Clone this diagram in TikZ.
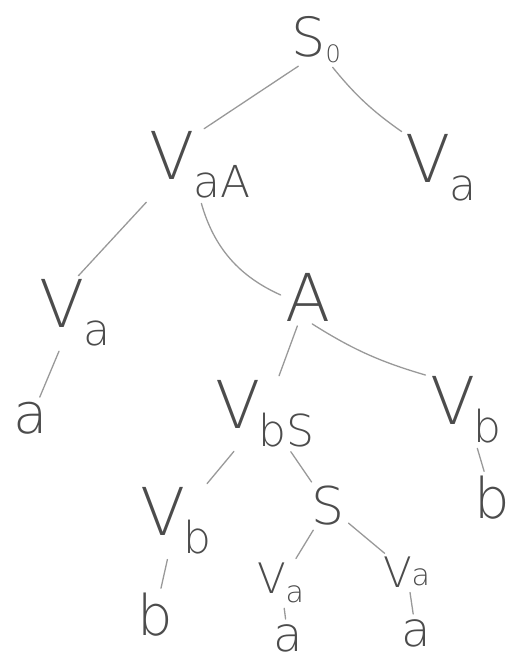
\documentclass[tikz,border=0pt]{standalone}
\usepackage{fontspec}
\setmainfont{DejaVu Sans}[UprightFont=* ExtraLight]
\usepackage{tikz}
\usetikzlibrary{positioning}

% sizes of the hand letters
\newcommand{\bigsz}{\fontsize{66}{66}\selectfont}
\newcommand{\subsz}{\fontsize{44}{44}\selectfont}
\newcommand{\vsub}[1]{V\kern-2pt\raisebox{-18pt}{\subsz #1}}
\newcommand{\vsubsm}[2]{{\fontsize{42}{42}\selectfont V}\kern-1pt\raisebox{#2}{\fontsize{30}{30}\selectfont #1}}

\begin{document}
\begin{tikzpicture}[
  x=1pt,y=-1pt,
  sym/.style={inner sep=0pt,text=black!70,font=\bigsz},
  leaf/.style={sym,font=\fontsize{56}{56}\selectfont},
  small/.style={sym,font=\fontsize{48}{48}\selectfont},
  edge/.style={black!40,line width=1.3pt,line cap=round,shorten >=5pt,shorten <=5pt}]
\useasboundingbox (0,0) rectangle (515,665);
\node[sym] (s0) at (316,40) {\fontsize{54}{54}\selectfont S\raisebox{-6pt}{\fontsize{24}{24}\selectfont 0}};
\node[sym] (vaa) at (200,165) {\vsub{aA}};
\node[sym] (vatop) at (441,168) {\vsub{a}};
\node[sym] (valeft) at (75,313) {\vsub{a}};
\node[leaf] (aleft) at (31,418) {a};
\node[sym] (nA) at (308,297) {A};
\node[sym] (vbs) at (265,414) {\vsub{bS}};
\node[sym] (vbright) at (466,410) {\vsub{b}};
\node[leaf] (bright) at (492,498) {b};
\node[sym] (vbmid) at (176,521) {\vsub{b}};
\node[leaf] (bmid) at (155,615) {b};
\node[sym,font=\fontsize{52}{52}\selectfont] (nS) at (328,506) {S};
\node[sym] (valow) at (281,583) {\vsubsm{a}{-9pt}};
\node[small] (alow) at (288,638) {a};
\node[sym] (vaend) at (407,572) {\vsubsm{a}{2pt}};
\node[small] (aend) at (416,633) {a};
\draw[edge] (s0.240) -- (vaa.north);
\draw[edge] (s0.300) to[bend right=8] (vatop.north west);
\draw[edge] (vaa.south west) -- (valeft.north);
\draw[edge] (vaa.south) to[bend right=25] (nA.west);
\draw[edge] (valeft) -- (aleft);
\draw[edge] (nA) -- (vbs);
\draw[edge] (nA.south) to[bend right=8] (vbright.north west);
\draw[edge] (vbright) -- (bright);
\draw[edge] (vbs) -- (vbmid);
\draw[edge] (vbs) -- (nS);
\draw[edge] (vbmid) -- (bmid);
\draw[edge] (nS) -- (valow);
\draw[edge] (nS) -- (vaend);
\draw[edge] (valow) -- (alow);
\draw[edge] (vaend) -- (aend);
\end{tikzpicture}
\end{document}
